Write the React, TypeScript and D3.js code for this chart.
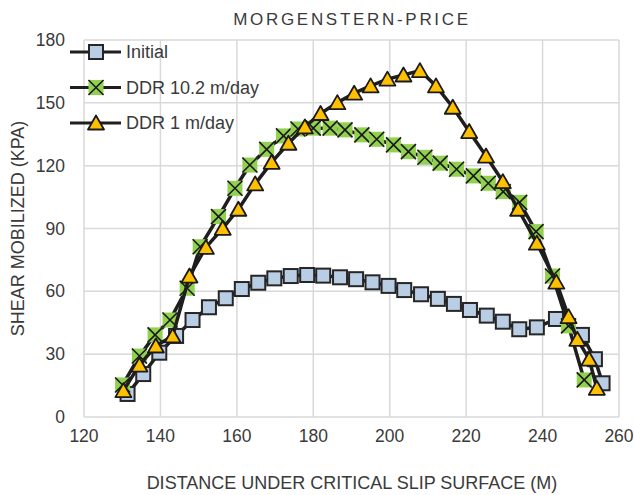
import React from "react";
import * as d3 from "d3";

// Shear mobilized along the critical slip surface (Morgenstern-Price)
const initialX = [131.4, 135.5, 139.7, 144.1, 148.4, 152.7, 157.1, 161.3, 165.6, 169.8, 174.1, 178.4, 182.6, 187.0, 191.2, 195.5, 199.7, 203.8, 208.2, 212.6, 216.8, 221.0, 225.4, 229.6, 233.9, 238.5, 243.5, 250.3, 253.7, 255.7];
const initialY = [11.0, 20.5, 30.7, 38.7, 46.3, 52.4, 56.7, 61.1, 64.1, 66.2, 67.3, 67.8, 67.5, 66.7, 65.8, 64.3, 62.6, 60.6, 58.6, 56.4, 54.0, 51.1, 48.4, 45.5, 41.9, 42.8, 46.8, 39.2, 27.6, 16.1];

const ddr10X = [130.1, 134.5, 138.6, 142.5, 147.0, 150.4, 155.2, 159.5, 163.4, 167.8, 172.2, 176.0, 180.0, 184.4, 188.3, 192.7, 196.6, 201.0, 204.9, 209.2, 213.2, 217.5, 221.9, 225.8, 229.7, 234.0, 238.3, 242.6, 246.8, 250.9];
const ddr10Y = [15.3, 29.1, 39.2, 46.3, 61.5, 81.3, 95.7, 109.2, 120.3, 127.8, 134.2, 137.5, 137.9, 137.9, 137.1, 134.7, 132.6, 129.9, 126.7, 124.0, 121.2, 118.3, 115.1, 111.6, 107.6, 102.5, 88.5, 67.3, 43.5, 17.7];

const ddr1X = [130.3, 134.5, 138.8, 143.2, 147.6, 151.9, 156.3, 160.4, 164.8, 169.1, 173.5, 177.8, 181.9, 186.3, 190.7, 195.0, 199.4, 203.6, 207.9, 212.1, 216.5, 220.8, 225.2, 229.6, 233.6, 238.5, 243.6, 246.8, 249.1, 252.2, 254.2];
const ddr1Y = [12.6, 24.8, 33.9, 38.7, 67.3, 81.0, 90.1, 99.2, 111.3, 121.6, 130.7, 138.5, 144.9, 150.1, 154.6, 158.1, 161.3, 163.3, 165.4, 158.1, 147.9, 136.3, 124.6, 112.4, 99.2, 83.0, 64.4, 47.9, 37.1, 27.6, 13.7];

const xTicks = [120, 140, 160, 180, 200, 220, 240, 260];
const yTicks = [0, 30, 60, 90, 120, 150, 180];

const seriesNames = ["Initial", "DDR 10.2 m/day", "DDR 1 m/day"];

const FONT = "'Liberation Sans', Arial, Helvetica, sans-serif";
const TEXT = "#3a3a3a";
const LINE = "#1e1e1e";

type Pt = [number, number];

function SquareMarker({ cx, cy }: { cx: number; cy: number }) {
  const s = 14;
  return (
    <rect x={cx - s / 2} y={cy - s / 2} width={s} height={s}
      fill="#b9cde5" stroke="#262626" strokeWidth={2} />
  );
}

function CrossMarker({ cx, cy }: { cx: number; cy: number }) {
  const s = 15;
  const h = s / 2;
  return (
    <g>
      <rect x={cx - h} y={cy - h} width={s} height={s} fill="#92d050" />
      <path d={`M${cx - h},${cy - h}L${cx + h},${cy + h}M${cx + h},${cy - h}L${cx - h},${cy + h}`}
        stroke="#1a1a1a" strokeWidth={1.6} fill="none" />
    </g>
  );
}

function TriangleMarker({ cx, cy }: { cx: number; cy: number }) {
  const w = 8, top = 7.5, bot = 6.5;
  return (
    <path d={`M${cx},${cy - top}L${cx + w},${cy + bot}L${cx - w},${cy + bot}Z`}
      fill="#ffc000" stroke="#1a1a1a" strokeWidth={1.8} strokeLinejoin="round" />
  );
}

export default function App() {
  const W = 634, H = 495;
  const x = d3.scaleLinear().domain([120, 260]).range([84, 619]);
  const y = d3.scaleLinear().domain([0, 180]).range([417, 40]);

  const line = d3.line<Pt>().x(d => x(d[0])).y(d => y(d[1]));
  const zip = (xs: number[], ys: number[]): Pt[] => xs.map((v, i) => [v, ys[i]]);

  const initial = zip(initialX, initialY);
  const ddr10 = zip(ddr10X, ddr10Y);
  const ddr1 = zip(ddr1X, ddr1Y);

  const markers = [SquareMarker, CrossMarker, TriangleMarker];
  const series = [initial, ddr10, ddr1];

  const [x0, x1] = x.range();
  const [y0, y1] = y.range();

  return (
    <svg width={W} height={H} style={{ position: "absolute", left: 0, top: 0, background: "#fff" }}
      fontFamily={FONT}>
      {/* grid */}
      <g stroke="#d9d9d9" strokeWidth={1.5}>
        {xTicks.map(t => (
          <line key={"gx" + t} x1={x(t)} x2={x(t)} y1={y1} y2={y0} />
        ))}
        {yTicks.map(t => (
          <line key={"gy" + t} x1={x0} x2={x1} y1={y(t)} y2={y(t)} />
        ))}
      </g>

      {/* tick labels */}
      <g fontSize={17.5} fill={TEXT}>
        {yTicks.map(t => (
          <text key={"ty" + t} x={x0 - 19} y={y(t)} dy="0.35em" textAnchor="end">{t}</text>
        ))}
        {xTicks.map(t => (
          <text key={"tx" + t} x={x(t)} y={y0 + 19} dy="0.35em" textAnchor="middle">{t}</text>
        ))}
      </g>

      {/* series */}
      {series.map((data, si) => {
        const M = markers[si];
        return (
          <g key={"s" + si}>
            <path d={line(data) ?? ""} fill="none" stroke={LINE} strokeWidth={3.5}
              strokeLinejoin="round" strokeLinecap="round" />
            {data.map((d, i) => <M key={i} cx={x(d[0])} cy={y(d[1])} />)}
          </g>
        );
      })}

      {/* legend */}
      {seriesNames.map((name, i) => {
        const M = markers[i];
        const ly = 52 + i * 35.5;
        return (
          <g key={"lg" + i}>
            <line x1={70} x2={121} y1={ly} y2={ly} stroke={LINE} strokeWidth={3} />
            <M cx={96} cy={ly} />
            <text x={126} y={ly} dy="0.35em" fontSize={18} fill={TEXT}>{name}</text>
          </g>
        );
      })}

      {/* titles */}
      <text x={352} y={19} dy="0.35em" textAnchor="middle" fontSize={17} letterSpacing={2.7} fill={TEXT}>
        MORGENSTERN-PRICE
      </text>
      <text x={352} y={483} dy="0.35em" textAnchor="middle" fontSize={18} fill={TEXT}>
        DISTANCE UNDER CRITICAL SLIP SURFACE (M)
      </text>
      <text transform={`translate(18,${(y0 + y1) / 2}) rotate(-90)`} dy="0.35em" textAnchor="middle"
        fontSize={18} fill={TEXT}>
        SHEAR MOBILIZED (KPA)
      </text>
    </svg>
  );
}
